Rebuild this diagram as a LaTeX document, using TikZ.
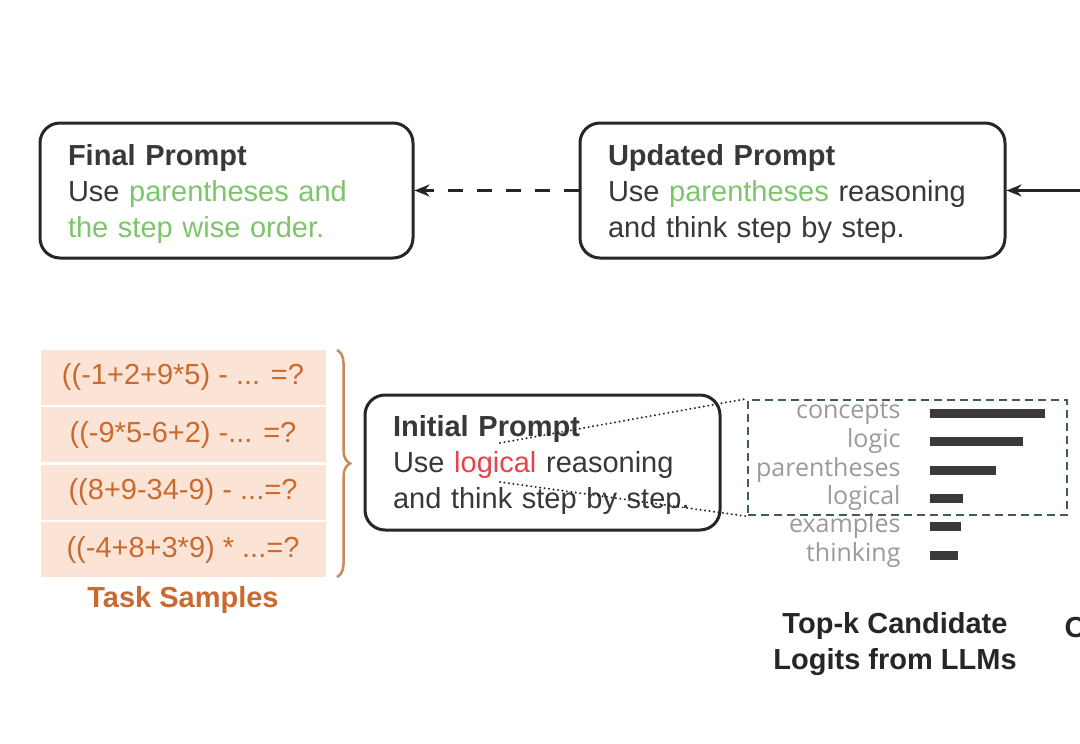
\documentclass[tikz,border=0pt]{standalone}
\usepackage{fontspec}
\setmainfont{Liberation Sans}
\newfontfamily\chartfont{Open Sans}
\usetikzlibrary{arrows.meta}
\tikzset{>={Stealth[length=15pt,width=12pt]}}
\usetikzlibrary{decorations.pathreplacing}
\usetikzlibrary{shapes,positioning}
\definecolor{goodGreen}{HTML}{7DC56B}
\definecolor{badRed}{HTML}{E5444C}
\definecolor{taskFill}{HTML}{FBE4D6}
\definecolor{taskText}{HTML}{C96A30}
\definecolor{braceColor}{HTML}{C98A55}
\definecolor{zoomColor}{HTML}{3D5A66}
\definecolor{labelGray}{HTML}{9A9A9A}
\definecolor{barGray}{HTML}{3A3A3A}
\colorlet{penColor}{black!85}

\tikzset{
  promptbox/.style={draw=penColor, line width=3pt, rounded corners=20pt, align=left,
    inner xsep=28pt, minimum height=135pt, text=black!78,
    font=\fontsize{29}{36}\selectfont},
  taskrow/.style={fill=taskFill, minimum width=285pt, minimum height=55pt, inner sep=0pt,
    text=taskText, font=\fontsize{29}{32}\selectfont},
  caption/.style={align=center, text=penColor, font=\fontsize{29}{36}\selectfont\bfseries},
  dotline/.style={penColor, line width=2.2pt, line cap=round, dash pattern=on 0pt off 4.5pt},
}

\begin{document}
\begin{tikzpicture}[x=1pt,y=-1pt]
\fill[white] (0,0) rectangle (1080,744);
\useasboundingbox (0,0) rectangle (1080,744);

% top row
\node[promptbox, minimum width=373pt, text width=317pt] (final) at (226.5,190.5)
  {\rule{0pt}{29pt}\textbf{Final Prompt}\\Use \textcolor{goodGreen}{parentheses and}\\\textcolor{goodGreen}{the step wise order.}};
\node[promptbox, minimum width=425pt, text width=369pt] (updated) at (792.5,190.5)
  {\rule{0pt}{29pt}\textbf{Updated Prompt}\\Use \textcolor{goodGreen}{parentheses} reasoning\\and think step by step.};
\coordinate (feed) at (1080,190.5);
\draw[->, penColor, line width=2.5pt] (feed) -- (updated.east);
\draw[->, penColor, line width=3pt, dash pattern=on 15pt off 14pt] (updated.west) -- (final.east);

% task samples
\node[taskrow] (t1) at (183,377) {((-1+2+9*5) - ... =?};
\node[taskrow] (t2) at (183,434.5) {((-9*5-6+2) -... =?};
\node[taskrow] (t3) at (183,492) {((8+9-34-9) - ...=?};
\node[taskrow] (t4) at (183,549.5) {((-4+8+3*9) * ...=?};
\node[caption, text=taskText] (tasklabel) at (183,600) {Task Samples};
\draw[braceColor, line width=2.5pt, decorate, decoration={brace, amplitude=13pt}] (337,350) -- (337,577);

% initial prompt
\node[promptbox, minimum width=355pt, text width=299pt] (initial) at (542.5,462.5)
  {\rule{0pt}{27pt}\textbf{Initial Prompt}\\Use \textcolor{badRed}{logical} reasoning\\and think step by step.};

% candidate logits
\foreach \word/\y/\len in {concepts/413/1045, logic/441/1023, parentheses/470/996,
    logical/498/963, examples/526/961, thinking/555/958}{
  \node[anchor=east, text=labelGray, font=\chartfont\fontsize{25}{28}\selectfont] (w-\word) at (904,\y) {\word};
  \fill[barGray] (930,\y-4.5) rectangle (\len,\y+4.5);
}
\node[draw=zoomColor, line width=2.5pt, dash pattern=on 8pt off 5pt, minimum width=319pt,
  minimum height=115pt, inner sep=0pt] (zoom) at (907.5,457.5) {};
\coordinate (logtop) at (500,443);
\coordinate (logbot) at (500,482);
\draw[dotline] (logtop) -- (zoom.north west);
\draw[dotline] (logbot) -- (zoom.south west);
\node[caption] (topk) at (895,644) {Top-k Candidate\\Logits from LLMs};
\node[caption, anchor=base west] (cutoff) at (1061,637) {O};
\end{tikzpicture}
\end{document}
